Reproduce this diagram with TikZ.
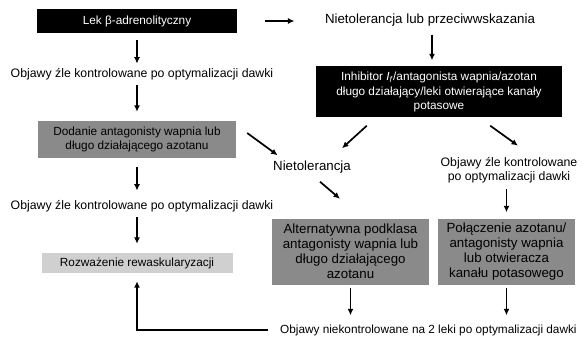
\documentclass[tikz,border=0pt]{standalone}
\usepackage{fontspec}
\setmainfont{Liberation Sans}
\usepackage{tikz}
\usetikzlibrary{calc}
\usetikzlibrary{positioning}
\usetikzlibrary{arrows.meta}
\definecolor{midgray}{RGB}{138,138,138}
\definecolor{lightgray}{RGB}{208,208,208}

\begin{document}
\begin{tikzpicture}[x=1pt,y=-1pt,>={Latex[length=6.5pt,width=6pt]},
  arr/.style={->,line width=1.7pt},
  txt/.style={font=\fontsize{12.3}{14}\selectfont,align=center},
  bigtxt/.style={font=\fontsize{13.3}{15}\selectfont,align=center},
  blackbox/.style={fill=black,text=white,font=\fontsize{11.8}{14.5}\selectfont,align=center,inner sep=2pt},
  graybox/.style={fill=midgray,font=\fontsize{11.8}{14.5}\selectfont,align=center,inner sep=2pt},
  lightbox/.style={fill=lightgray,font=\fontsize{11.8}{14.5}\selectfont,align=center,inner sep=2pt}]

\useasboundingbox (0,0) rectangle (582,337);

% left column
\node[blackbox,minimum width=200pt,minimum height=24pt] (lek) at (137,21) {Lek β-adrenolityczny};
\node[txt] (obj1) at (142,74) {Objawy źle kontrolowane po optymalizacji dawki};
\node[graybox,minimum width=198pt,minimum height=37pt] (dod) at (137,139.5) {Dodanie antagonisty wapnia lub\\długo działającego azotanu};
\node[txt] (obj2) at (142,206) {Objawy źle kontrolowane po optymalizacji dawki};
\node[lightbox,minimum width=191pt,minimum height=20pt] (rew) at (137,263) {Rozważenie rewaskularyzacji};

% right part
\node[bigtxt] (niet) at (430,20) {Nietolerancja lub przeciwwskazania};
\node[blackbox,minimum width=246pt,minimum height=51pt] (inhib) at (439,92) {Inhibitor \textit{I}\textsubscript{\textit{f}}/antagonista wapnia/azotan\\długo działający/leki otwierające kanały\\potasowe};
\node[bigtxt] (nietol) at (312,167) {Nietolerancja};
\node[txt] (obj3) at (509,170) {Objawy źle kontrolowane\\po optymalizacji dawki};
\node[graybox,font=\fontsize{13.3}{15}\selectfont,minimum width=157pt,minimum height=66pt] (alt) at (350.5,251.5) {Alternatywna podklasa\\antagonisty wapnia lub\\długo działającego\\azotanu};
\node[graybox,font=\fontsize{13.3}{15}\selectfont,minimum width=137pt,minimum height=66pt] (pol) at (506.5,251.5) {Połączenie azotanu/\\antagonisty wapnia\\lub otwieracza\\kanału potasowego};
\node[txt,font=\fontsize{11.8}{14}\selectfont,anchor=west,inner sep=1pt] (objn) at (279,330) {Objawy niekontrolowane na 2 leki po optymalizacji dawki};

% arrows
\draw[arr,shorten <=28pt,shorten >=27pt] (lek.east) -- (lek.east -| niet.west);
\draw[arr,shorten <=5pt,shorten >=6pt] (inhib.north |- niet.south) ++(-7,0) -- ($(inhib.north)+(-7,0)$);
\draw[arr,shorten <=7pt,shorten >=1pt] (lek.south) -- (lek.south |- obj1.north);
\draw[arr,shorten <=2pt,shorten >=9pt] (dod.north |- obj1.south) -- (dod.north);
\draw[arr,shorten <=9pt,shorten >=6pt] (dod.south) -- (dod.south |- obj2.north);
\draw[arr,shorten <=2pt,shorten >=9pt] (rew.north |- obj2.south) -- (rew.north);
\draw[arr] ($(dod.east)+(11,-6.5)$) -- ($(nietol.north west)+(8,-2)$);
\draw[arr] ($(inhib.south west)+(51,8)$) -- ($(nietol.north)+(30,-9)$);
\draw[arr] ($(inhib.south east)+(-72,8)$) -- ($(obj3.north)+(9,-8)$);
\draw[arr] ($(nietol.south)+(8,5)$) -- ($(alt.north)+(-10.5,-19.5)$);
\draw[arr,shorten <=3pt,shorten >=6pt] (pol.north |- obj3.south) -- (pol.north);
\draw[arr,shorten <=3pt,shorten >=8pt] (alt.south) -- (alt.south |- objn.north);
\draw[arr,shorten <=3pt,shorten >=8pt] (pol.south) -- (pol.south |- objn.north);
\draw[arr,shorten <=11pt,shorten >=8pt] (objn.west) -- (rew.south |- objn.west) -- (rew.south);
\end{tikzpicture}
\end{document}
